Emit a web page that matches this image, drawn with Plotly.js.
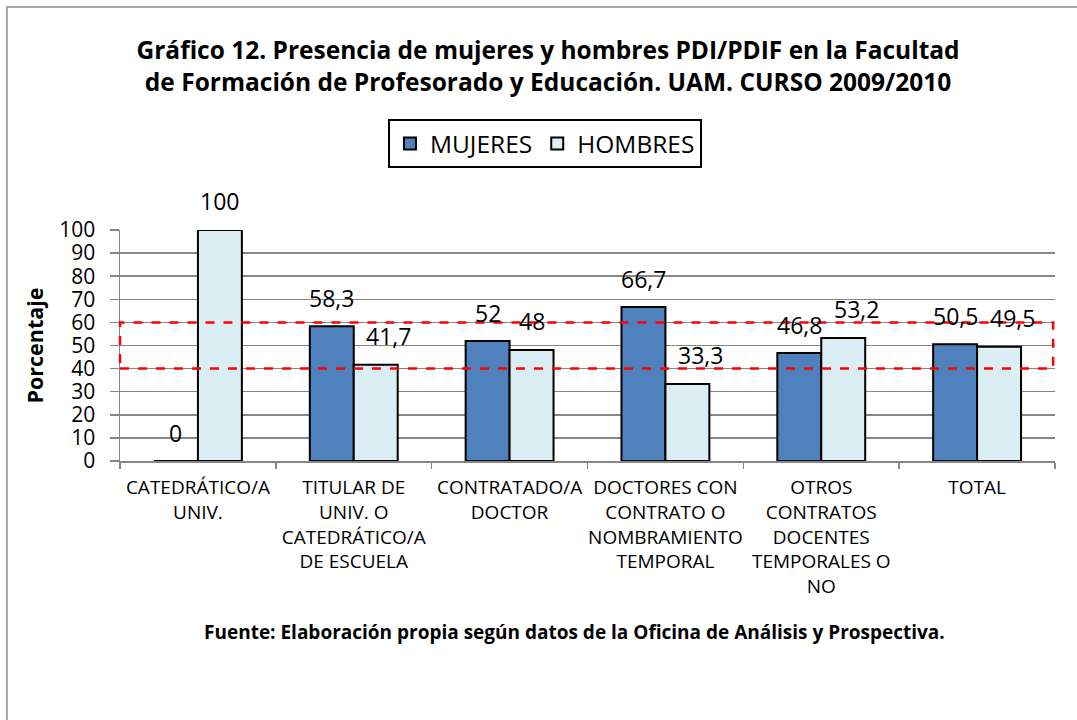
<!DOCTYPE html>
<html>
<head>
<meta charset="utf-8">
<script src="https://cdn.plot.ly/plotly-3.0.1.min.js"></script>
<style>
html,body{margin:0;padding:0;background:#fff;overflow:hidden;}
#chart{width:1077px;height:720px;}
</style>
</head>
<body>
<div id="chart"></div>
<script>
const categories = [
  "CATEDRÁTICO/A<br>UNIV.",
  "TITULAR DE<br>UNIV. O<br>CATEDRÁTICO/A<br>DE ESCUELA",
  "CONTRATADO/A<br>DOCTOR",
  "DOCTORES CON<br>CONTRATO O<br>NOMBRAMIENTO<br>TEMPORAL",
  "OTROS<br>CONTRATOS<br>DOCENTES<br>TEMPORALES O<br>NO",
  "TOTAL"
];
const mujeres = [0, 58.3, 52, 66.7, 46.8, 50.5];
const hombres = [100, 41.7, 48, 33.3, 53.2, 49.5];
const seriesNames = ["MUJERES", "HOMBRES"];
const yTicks = [0, 10, 20, 30, 40, 50, 60, 70, 80, 90, 100];
const bandLow = 40;
const bandHigh = 60;

const FONT = "Open Sans, Noto Sans, sans-serif";
const fmt = v => String(v).replace('.', ',');

const traces = [
  {
    type: 'bar', name: seriesNames[0], x: categories, y: mujeres,
    marker: {color: '#4F81BD', line: {color: '#000000', width: 2}},
    hoverinfo: 'skip'
  },
  {
    type: 'bar', name: seriesNames[1], x: categories, y: hombres,
    marker: {color: '#DBEEF4', line: {color: '#000000', width: 2}},
    hoverinfo: 'skip'
  }
];

const barShift = 22;
const annotations = [];
categories.forEach((c, i) => {
  const mt = fmt(mujeres[i]);
  const ht = fmt(hombres[i]);
  annotations.push({x: c, y: mujeres[i], xref: 'x', yref: 'y', text: mt,
    showarrow: false, xshift: -barShift, yshift: 28, yanchor: 'middle',
    font: {family: FONT, size: 23, color: '#000'}});
  annotations.push({x: c, y: hombres[i], xref: 'x', yref: 'y', text: ht,
    showarrow: false, xshift: barShift + (ht.indexOf(',') >= 0 ? 13 : 0), yshift: 29, yanchor: 'middle',
    font: {family: FONT, size: 23, color: '#000'}});
});
annotations.push({
  text: '<b>Fuente: Elaboración propia según datos de la Oficina de Análisis y Prospectiva.</b>',
  xref: 'paper', yref: 'paper', x: 0.4866, y: -0.740, xanchor: 'center', yanchor: 'middle',
  showarrow: false, font: {family: FONT, size: 19, color: '#000'}
});

const layout = {
  width: 1077, height: 720,
  margin: {l: 120, r: 22, t: 230, b: 259},
  paper_bgcolor: '#ffffff', plot_bgcolor: '#ffffff',
  font: {family: FONT, color: '#000'},
  title: {
    text: '<b>Gráfico 12. Presencia de mujeres y hombres PDI/PDIF en la Facultad<br>de Formación de Profesorado y Educación. UAM. CURSO 2009/2010</b>',
    font: {family: FONT, size: 24.5, color: '#000'},
    xref: 'paper', x: 0.4578, xanchor: 'center',
    yref: 'container', y: 1 - 59/720, yanchor: 'middle'
  },
  barmode: 'group', bargap: 0.436, bargroupgap: 0,
  showlegend: true,
  legend: {
    orientation: 'h', xref: 'paper', yref: 'paper',
    x: 0.4545, xanchor: 'center', y: 1.48, yanchor: 'top',
    bordercolor: '#000', borderwidth: 2, bgcolor: '#fff',
    font: {family: FONT, size: 24.5, color: '#000'},
    traceorder: 'normal', itemwidth: 30
  },
  xaxis: {
    type: 'category', range: [-0.5, 5.5],
    showline: true, linecolor: '#868686', linewidth: 1.5,
    ticks: 'outside', tickson: 'boundaries', ticklen: 6, tickcolor: '#868686', tickwidth: 1.5,
    ticklabelstandoff: 9,
    tickfont: {family: FONT, size: 19, color: '#000'},
    tickangle: 0, showgrid: false, zeroline: false, fixedrange: true
  },
  yaxis: {
    range: [0, 100], tickvals: yTicks, ticktext: yTicks.map(String),
    showline: true, linecolor: '#868686', linewidth: 1.5,
    ticks: 'outside', ticklen: 9, tickcolor: '#868686', tickwidth: 1.5,
    ticklabelstandoff: 10,
    tickfont: {family: FONT, size: 21, color: '#000'},
    showgrid: true, gridcolor: '#868686', gridwidth: 1.5,
    zeroline: false, fixedrange: true,
    title: {text: '<b>Porcentaje</b>', font: {family: FONT, size: 21.5, color: '#000'}, standoff: 9}
  },
  shapes: [
    {type: 'rect', xref: 'paper', yref: 'y', x0: 0, x1: 0.998, y0: bandLow, y1: bandHigh,
     line: {color: '#FF0000', width: 2.5, dash: 'dash'}, fillcolor: 'rgba(0,0,0,0)', layer: 'above'},
    {type: 'rect', xref: 'paper', yref: 'paper', x0: -0.1209, x1: 1.2, y0: -1.5, y1: 1.9654,
     line: {color: '#8c8c8c', width: 1.5}, fillcolor: 'rgba(0,0,0,0)', layer: 'below'}
  ],
  annotations: annotations
};

Plotly.newPlot('chart', traces, layout, {displayModeBar: false, staticPlot: true});
</script>
</body>
</html>
